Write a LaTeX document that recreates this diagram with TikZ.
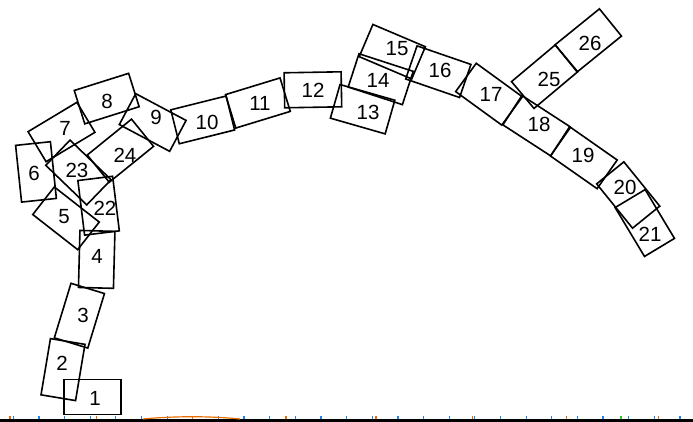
\documentclass[tikz,border=0pt]{standalone}
\usepackage{fontspec}
\setmainfont{Liberation Sans}
\tikzset{
  box/.style={draw=black, line width=1.6pt, inner sep=0pt, outer sep=0pt, minimum width=57pt, minimum height=35pt},
  portrait/.style={box, minimum width=35pt, minimum height=57pt},
  lbl/.style={inner sep=0pt, font=\fontsize{20.5}{20.5}\selectfont},
  bluetick/.style={draw={rgb,255:red,30;green,130;blue,240}, line width=1.2pt},
  orangetick/.style={draw={rgb,255:red,230;green,110;blue,0}, line width=1.4pt},
}
\begin{document}
\begin{tikzpicture}[x=1pt,y=-1pt]
\useasboundingbox (0,0) rectangle (693,422);
% boxes
\node[box, rotate=0] (b1) at (92.5,397) {};
\node[portrait, rotate=-9.5] (b2) at (63,369.6) {};
\node[portrait, rotate=-17] (b3) at (79.4,315.7) {};
\node[portrait, rotate=-1.5] (b4) at (96.7,259.4) {};
\node[box, rotate=-38] (b5) at (66,218.3) {};
\node[portrait, rotate=6] (b6) at (36,171.9) {};
\node[box, rotate=31] (b7) at (61.5,132) {};
\node[box, rotate=17.5] (b8) at (106.7,98.6) {};
\node[box, rotate=-28] (b9) at (152.7,122.5) {};
\node[box, rotate=14] (b10) at (202.7,119.9) {};
\node[box, rotate=17] (b11) at (257.9,103) {};
\node[box, rotate=1] (b12) at (312.9,89.8) {};
\node[box, rotate=-16] (b13) at (362.6,109.2) {};
\node[box, rotate=-18] (b14) at (380.7,79.2) {};
\node[box, rotate=-23] (b15) at (392.3,51.7) {};
\node[box, rotate=-19] (b16) at (438.3,71.7) {};
\node[box, rotate=-36] (b17) at (489,94.2) {};
\node[box, rotate=-33] (b18) at (536.3,125.7) {};
\node[box, rotate=-35] (b19) at (583.8,158) {};
\node[box, rotate=-51] (b20) at (628.2,195) {};
\node[box, rotate=-59] (b21) at (644.8,223) {};
\node[portrait, rotate=7, minimum height=55pt] (b22) at (98.6,205.7) {};
\node[box, rotate=-44] (b23) at (78.4,172.5) {};
\node[box, rotate=39] (b24) at (120.4,150.7) {};
\node[box, rotate=40] (b25) at (544.6,76.7) {};
\node[box, rotate=39] (b26) at (588.3,40.4) {};
% labels
\node[lbl] (t1) at (95,398) {1};
\node[lbl] (t2) at (62,363) {2};
\node[lbl] (t3) at (83,315) {3};
\node[lbl] (t4) at (97,256) {4};
\node[lbl] (t5) at (64,217) {5};
\node[lbl] (t6) at (34,173) {6};
\node[lbl] (t7) at (65,128) {7};
\node[lbl] (t8) at (107,101) {8};
\node[lbl] (t9) at (156,117) {9};
\node[lbl] (t10) at (207,122) {10};
\node[lbl] (t11) at (260,103) {11};
\node[lbl] (t12) at (313,90) {12};
\node[lbl] (t13) at (368,112) {13};
\node[lbl] (t14) at (378,80) {14};
\node[lbl] (t15) at (397,49) {15};
\node[lbl] (t16) at (440,70) {16};
\node[lbl] (t17) at (491,94) {17};
\node[lbl] (t18) at (539,124) {18};
\node[lbl] (t19) at (583,155) {19};
\node[lbl] (t20) at (625,187) {20};
\node[lbl] (t21) at (650,234) {21};
\node[lbl] (t22) at (105,208) {22};
\node[lbl] (t23) at (77,170) {23};
\node[lbl] (t24) at (125,155) {24};
\node[lbl] (t25) at (549,79) {25};
\node[lbl] (t26) at (590,43) {26};
% bottom strip
\fill[black] (0,419.3) rectangle (693,422);
\foreach \k in {0,...,26} {
  \draw[bluetick] ({13.3+25.64*\k},416) -- ({13.3+25.64*\k},419.3);
}
\foreach \xx in {10,96.7,192.7,286,376,472.7,566.7,658.3} {
  \draw[orangetick] (\xx,416) -- (\xx,419.3);
}
\draw[orangetick, line width=1.2pt] (143,419) .. controls (175,416) and (210,416) .. (240,419);
\draw[draw={rgb,255:red,40;green,200;blue,40}, line width=1.2pt] (621,416) -- (621,419.3);
\end{tikzpicture}
\end{document}
